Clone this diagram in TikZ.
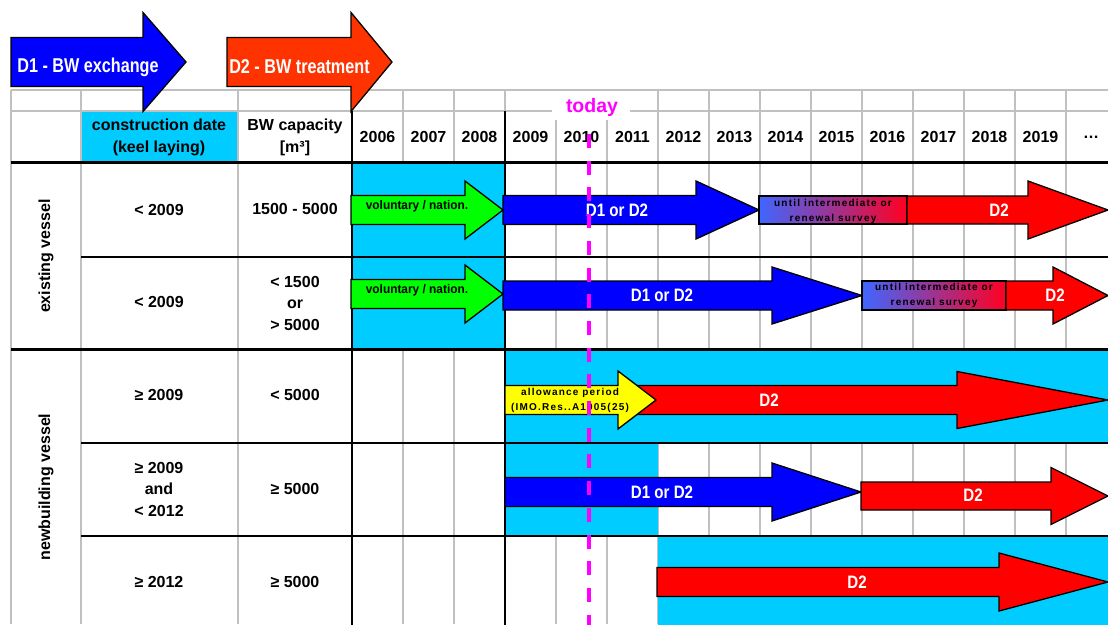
\documentclass[tikz,border=0pt]{standalone}
\usepackage{fontspec}
\setmainfont{Liberation Sans}
\newfontfamily\narrowb{Liberation Sans Bold}[FakeStretch=0.84]
\newfontfamily\narrowleg{Liberation Sans Bold}[FakeStretch=0.81]
\newfontfamily\narrowvol{Liberation Sans Bold}[FakeStretch=0.95]
\newfontfamily\spacedb{Liberation Sans Bold}[LetterSpace=12]
\definecolor{cy}{HTML}{00CCFF}
\definecolor{gridgrey}{HTML}{C0C0C0}
\definecolor{legred}{HTML}{FF3300}
\definecolor{gradl}{HTML}{3F66FF}
\definecolor{gradr}{HTML}{FF0022}
\definecolor{pureblue}{HTML}{0000FF}
\definecolor{purered}{HTML}{FF0000}
\definecolor{puregreen}{HTML}{00FF00}
\definecolor{pureyellow}{HTML}{FFFF00}
\definecolor{puremagenta}{HTML}{FF00FF}
\newcommand\fatarrow[7]{% fill, x1, xh, xt, yc, h, H
  \draw[arrowline, fill=#1] (#2,#5-#6) -- (#3,#5-#6) -- (#3,#5-#7) -- (#4,#5) -- (#3,#5+#7) -- (#3,#5+#6) -- (#2,#5+#6) -- cycle;}
\tikzset{
  arrowline/.style={draw=black, line width=1.3pt, line join=miter},
  gridline/.style={draw=gridgrey, line width=1.6pt},
  blackline/.style={draw=black, line width=2pt},
  thickline/.style={draw=black, line width=3pt},
  cell/.style={font=\bfseries\fontsize{16}{21.5}\selectfont, align=center, inner sep=0pt},
  yeartext/.style={font=\bfseries\fontsize{16}{19}\selectfont, inner sep=0pt},
  arrowlabel/.style={font=\narrowb\fontsize{18}{21}\selectfont, text=white, inner sep=0pt},
  leglabel/.style={font=\narrowleg\fontsize{20}{24}\selectfont, text=white, inner sep=0pt},
  smalllabel/.style={font=\spacedb\fontsize{10}{15}\selectfont, align=center, inner sep=0pt},
  vollabel/.style={font=\narrowvol\fontsize{12.5}{15}\selectfont, inner sep=0pt},
  todaylabel/.style={font=\bfseries\fontsize{19.5}{22}\selectfont, text=puremagenta, inner sep=0pt},
  todayline/.style={draw=puremagenta, line width=3.5pt, dash pattern=on 14pt off 12.7pt},
  gradbox/.style={draw=black, line width=1.3pt, left color=gradl, right color=gradr},
}
\begin{document}
\begin{tikzpicture}[x=1pt,y=-1pt]
\path[use as bounding box, clip] (0,0) rectangle (1108,624);
\fill[white] (0,0) rectangle (1108,624);
% grey grid
\draw[gridline] (11,90) -- (1112,90);
\draw[gridline] (11,111) -- (552,111);
\draw[gridline] (630,111) -- (1112,111);
\foreach \x in {11,81,238,403,454,658,709,760,811,862,913,964,1015,1066}
  \draw[gridline] (\x,90) -- (\x,624);
\foreach \x in {352,505}
  \draw[gridline] (\x,90) -- (\x,111);
\foreach \x in {556,607}
  \draw[gridline] (\x,120) -- (\x,624);
% cyan fills
\fill[cy] (82,112) rectangle (237,161);
\fill[cy] (352,162) rectangle (505,349);
\fill[cy] (505,349) rectangle (1112,443);
\fill[cy] (505,443) rectangle (658,536);
\fill[cy] (658,536) rectangle (1112,626);
% black lines
\draw[thickline] (11,162) -- (1112,162);
\draw[thickline] (11,349) -- (1112,349);
\draw[blackline] (81,257) -- (1112,257);
\draw[blackline] (81,443) -- (1112,443);
\draw[blackline] (81,536) -- (1112,536);
\draw[blackline] (352,111) -- (352,626);
\draw[blackline] (505,111) -- (505,626);
% legend arrows
\fatarrow{pureblue}{11}{143}{186}{62}{24.5}{49.5}
\fatarrow{legred}{227}{351}{392}{62}{24.5}{49.5}
\node[leglabel] (d1leg) at (88,67) {D1 - BW exchange};
\node[leglabel] (d2leg) at (299.5,67) {D2 - BW treatment};
% header
\node[cell] (hdate) at (159,137.5) {construction date\\(keel laying)};
\node[cell] (hcap) at (295,137.5) {BW capacity\\{[m³]}};
\foreach \yr [count=\i from 0] in {2006,2007,2008,2009,2010,2011,2012,2013,2014,2015,2016,2017,2018,2019}
  \node[yeartext] (yr\yr) at (377.5+51*\i,137) {\yr};
\node[yeartext] (yrmore) at (1091,137) {…};
% row labels
\node[cell, rotate=90] (existing) at (46,256) {existing vessel};
\node[cell, rotate=90] (newbuild) at (46,487) {newbuilding vessel};
\node[cell] (r1date) at (159,210) {< 2009};
\node[cell] (r1cap) at (295,209) {1500 - 5000};
\node[cell] (r2date) at (159,302) {< 2009};
\node[cell] (r2cap) at (295,303) {< 1500\\or\\> 5000};
\node[cell] (r3date) at (159,395) {≥ 2009};
\node[cell] (r3cap) at (295,395) {< 5000};
\node[cell] (r4date) at (159,489) {≥ 2009\\and\\< 2012};
\node[cell] (r4cap) at (295,489) {≥ 5000};
\node[cell] (r5date) at (159,582) {≥ 2012};
\node[cell] (r5cap) at (295,582) {≥ 5000};
% row 1
\fatarrow{puregreen}{351}{465}{503}{210}{14.5}{29}
\fatarrow{pureblue}{503}{696}{759}{210}{14.5}{29}
\path[gradbox] (759,196) rectangle (907,224);
\fatarrow{purered}{907}{1028}{1108}{210}{14}{29}
\node[vollabel] (r1vol) at (417,206) {voluntary / nation.};
\node[arrowlabel] (r1d12) at (617,210) {D1 or D2};
\node[smalllabel] (r1until) at (833,211.5) {until intermediate or\\renewal survey};
\node[arrowlabel] (r1d2) at (999,210) {D2};
% row 2
\fatarrow{puregreen}{351}{465}{503}{294}{14.5}{29}
\fatarrow{pureblue}{503}{772}{862}{295.5}{14.5}{28.5}
\path[gradbox] (862,281) rectangle (1006,310);
\fatarrow{purered}{1006}{1053}{1108}{295.5}{14.5}{28.5}
\node[vollabel] (r2vol) at (417,290) {voluntary / nation.};
\node[arrowlabel] (r2d12) at (662,295) {D1 or D2};
\node[smalllabel] (r2until) at (934,295.5) {until intermediate or\\renewal survey};
\node[arrowlabel] (r2d2) at (1055,295) {D2};
% row 3
\fatarrow{purered}{618}{957}{1108}{400}{14.5}{28.5}
\fatarrow{pureyellow}{505}{618}{656}{400}{14.5}{29}
\node[smalllabel] (r3allow) at (570,400.5) {allowance period\\(IMO.Res..A1005(25)};
\node[arrowlabel] (r3d2) at (769,400) {D2};
% row 4
\fatarrow{pureblue}{505}{772}{861}{492}{14.5}{29}
\fatarrow{purered}{861}{1051}{1108}{496}{14}{28.5}
\node[arrowlabel] (r4d12) at (662,492) {D1 or D2};
\node[arrowlabel] (r4d2) at (973,495) {D2};
% row 5
\fatarrow{purered}{657}{999}{1108}{582}{14.5}{29}
\node[arrowlabel] (r5d2) at (857,582) {D2};
% today
\coordinate (todaytop) at (589,134);
\coordinate (todaybot) at (589,626);
\draw[todayline] (todaytop) -- (todaybot);
\node[todaylabel] (today) at (592,107) {today};
\end{tikzpicture}
\end{document}
